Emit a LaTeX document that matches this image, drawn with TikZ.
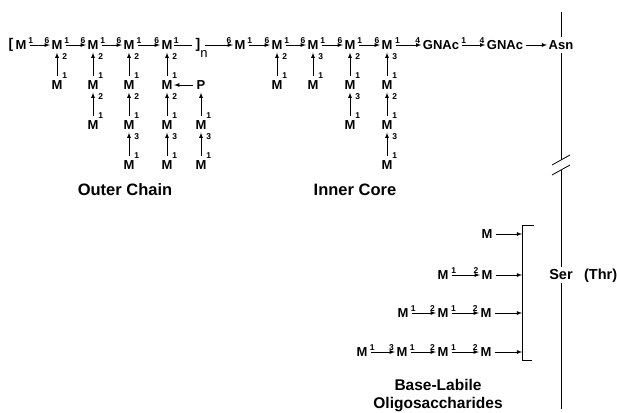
\documentclass[tikz,border=0pt]{standalone}
\usepackage{fontspec}
\setmainfont{Liberation Sans}
\usepackage{tikz}
\usetikzlibrary{positioning}
\newcommand{\sugarfont}{\fontsize{13}{15}\selectfont\bfseries}
\newcommand{\linkfont}{\fontsize{8.5}{9}\selectfont\bfseries}
\newcommand{\titlefont}{\fontsize{16.5}{18}\selectfont\bfseries}
\newcommand{\bracefont}{\fontsize{14}{15}\selectfont\bfseries}
\tikzstyle{sugar} = [font=\sugarfont, inner xsep=1.5pt, inner ysep=3pt]
\tikzstyle{brace} = [font=\bracefont, inner xsep=3pt, inner ysep=0pt]
\tikzstyle{repeat} = [font=\fontsize{13}{13}\selectfont, inner sep=0pt]
\tikzstyle{aglycon} = [font=\fontsize{14.5}{16}\selectfont\bfseries, inner sep=3pt]
\tikzstyle{title} = [font=\titlefont, align=center]
\tikzstyle{link} = [font=\linkfont, inner sep=1pt]
\tikzstyle{htail} = [link, pos=0.12, above]
\tikzstyle{hhead} = [link, pos=0.87, above]
\tikzstyle{vtail} = [link, pos=0.08, right=4pt]
\tikzstyle{vhead} = [link, pos=0.85, right=4pt]
\tikzstyle{line} = [draw, -latex, line width=0.8pt, shorten <=1.5pt]
\tikzstyle{bond} = [draw, line width=0.8pt]

\begin{document}
\begin{tikzpicture}[x=1pt, y=-1pt, node distance=40pt]
\useasboundingbox (0,0) rectangle (617,412);
% Place nodes
\node [brace] (lbr) at (11,45) {[};
\node [sugar] (o1) at (21,45) {M};
\node [sugar] (o2) at (57,45) {M};
\node [sugar] (o3) at (93,45) {M};
\node [sugar] (o4) at (129,45) {M};
\node [sugar] (o5) at (167,45) {M};
\node [brace] (rbr) at (198,45) {]};
\node [repeat] (rep) at (204,54) {n};
\node [sugar] (i1) at (240,45) {M};
\node [sugar] (i2) at (277,45) {M};
\node [sugar] (i3) at (313,45) {M};
\node [sugar] (i4) at (350,45) {M};
\node [sugar] (i5) at (387,45) {M};
\node [sugar] (g1) at (441,45) {GNAc};
\node [sugar] (g2) at (505,45) {GNAc};
\node [sugar] (asn) at (561,45) {Asn};
% outer chain branches
\node [sugar, below of=o2] (o21) {M};
\node [sugar, below of=o3] (o31) {M};
\node [sugar, below of=o31] (o32) {M};
\node [sugar, below of=o4] (o41) {M};
\node [sugar, below of=o41] (o42) {M};
\node [sugar, below of=o42] (o43) {M};
\node [sugar, below of=o5] (o51) {M};
\node [sugar, below of=o51] (o52) {M};
\node [sugar, below of=o52] (o53) {M};
\node [sugar, right of=o51, node distance=34pt] (pho) {P};
\node [sugar, below of=pho] (p1) {M};
\node [sugar, below of=p1] (p2) {M};
% inner core branches
\node [sugar, below of=i2] (i21) {M};
\node [sugar, below of=i3] (i31) {M};
\node [sugar, below of=i4] (i41) {M};
\node [sugar, below of=i41] (i42) {M};
\node [sugar, below of=i5] (i51) {M};
\node [sugar, below of=i51] (i52) {M};
\node [sugar, below of=i52] (i53) {M};
% base-labile chains
\node [sugar] (a1) at (487,234) {M};
\node [sugar] (b1) at (443,275) {M};
\node [sugar] (b2) at (487,275) {M};
\node [sugar] (c1) at (403,313) {M};
\node [sugar] (c2) at (443,313) {M};
\node [sugar] (c3) at (486,313) {M};
\node [sugar] (d1) at (362,352) {M};
\node [sugar] (d2) at (402,352) {M};
\node [sugar] (d3) at (443,352) {M};
\node [sugar] (d4) at (486,352) {M};
\coordinate (bkt) at (522,225);
\coordinate (bkb) at (522,360);
% peptide
\coordinate (top) at (561,12);
\coordinate (cutA) at (561,160);
\coordinate (cutB) at (561,170);
\coordinate (bot) at (561,409);
\node [aglycon] (ser) at (561,275) {Ser};
\node [aglycon, anchor=base west] (thr) at ([xshift=5pt]ser.base east) {(Thr)};
% titles
\node [title] (outer) at (125,190) {Outer Chain};
\node [title] (inner) at (355,190) {Inner Core};
\node [title, font=\fontsize{15.5}{18}\selectfont\bfseries] (blo) at (438,396) {Base-Labile\\Oligosaccharides};
% Draw edges
\path [line] (o1) -- node[htail] {1} node[hhead] {6} (o2);
\path [line] (o2) -- node[htail] {1} node[hhead] {6} (o3);
\path [line] (o3) -- node[htail] {1} node[hhead] {6} (o4);
\path [line] (o4) -- node[htail] {1} node[hhead] {6} (o5);
\path [bond] (o5) -- node[htail] {1} (rbr);
\path [line] (rbr) -- node[hhead] {6} (i1);
\path [line] (i1) -- node[htail] {1} node[hhead] {6} (i2);
\path [line] (i2) -- node[htail] {1} node[hhead] {6} (i3);
\path [line] (i3) -- node[htail] {1} node[hhead] {6} (i4);
\path [line] (i4) -- node[htail] {1} node[hhead] {6} (i5);
\path [line] (i5) -- node[htail] {1} node[hhead] {4} (g1);
\path [line] (g1) -- node[htail] {1} node[hhead] {4} (g2);
\path [line] (g2) -- (asn);
% outer chain
\path [line] (o21) -- node[vtail] {1} node[vhead] {2} (o2);
\path [line] (o31) -- node[vtail] {1} node[vhead] {2} (o3);
\path [line] (o32) -- node[vtail] {1} node[vhead] {2} (o31);
\path [line] (o41) -- node[vtail] {1} node[vhead] {2} (o4);
\path [line] (o42) -- node[vtail] {1} node[vhead] {2} (o41);
\path [line] (o43) -- node[vtail] {1} node[vhead] {3} (o42);
\path [line] (o51) -- node[vtail] {1} node[vhead] {2} (o5);
\path [line] (o52) -- node[vtail] {1} node[vhead] {2} (o51);
\path [line] (o53) -- node[vtail] {1} node[vhead] {3} (o52);
\path [line] (pho) -- (o51);
\path [line] (p1) -- node[vtail] {1} (pho);
\path [line] (p2) -- node[vtail] {1} node[vhead] {3} (p1);
% inner core
\path [line] (i21) -- node[vtail] {1} node[vhead] {2} (i2);
\path [line] (i31) -- node[vtail] {1} node[vhead] {3} (i3);
\path [line] (i41) -- node[vtail] {1} node[vhead] {2} (i4);
\path [line] (i42) -- node[vtail] {1} node[vhead] {3} (i41);
\path [line] (i51) -- node[vtail] {1} node[vhead] {3} (i5);
\path [line] (i52) -- node[vtail] {1} node[vhead] {2} (i51);
\path [line] (i53) -- node[vtail] {1} node[vhead] {3} (i52);
% base-labile
\path [line] (b1) -- node[htail] {1} node[hhead] {2} (b2);
\path [line] (c1) -- node[htail] {1} node[hhead] {2} (c2);
\path [line] (c2) -- node[htail] {1} node[hhead] {2} (c3);
\path [line] (d1) -- node[htail] {1} node[hhead] {3} (d2);
\path [line] (d2) -- node[htail] {1} node[hhead] {2} (d3);
\path [line] (d3) -- node[htail] {1} node[hhead] {2} (d4);
\path [line] (a1) -- (a1 -| bkt);
\path [line] (b2) -- (b2 -| bkt);
\path [line] (c3) -- (c3 -| bkt);
\path [line] (d4) -- (d4 -| bkt);
\path [bond] ([xshift=12pt]bkt) -- (bkt) -- (bkb) -- ([xshift=10pt]bkb);
% peptide line
\path [bond] (top) -- (asn);
\path [bond] (asn) -- (cutA);
\path [bond] ([shift={(-9,5)}]cutA) -- ([shift={(9,-5)}]cutA);
\path [bond] ([shift={(-9,5)}]cutB) -- ([shift={(9,-5)}]cutB);
\path [bond] (cutB) -- (ser);
\path [bond] (ser) -- (bot);
\end{tikzpicture}
\end{document}
